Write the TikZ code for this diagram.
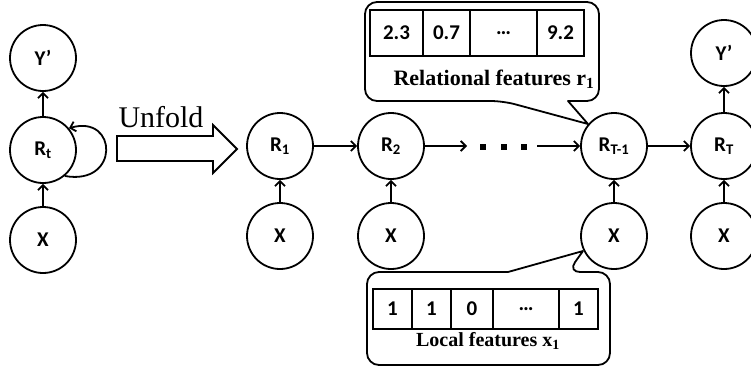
\documentclass[tikz,border=0pt]{standalone}
\usepackage{fontspec}
\setmainfont{Liberation Serif}
\newfontfamily\calfont{Carlito}
\usetikzlibrary{arrows.meta}
\tikzset{
  every picture/.style={line width=1.8pt},
  unit/.style={circle, draw, minimum size=66pt, inner sep=0pt, font=\calfont\bfseries\fontsize{21}{23}\selectfont},
  cell/.style={draw, inner sep=0pt, minimum height=46pt, font=\calfont\bfseries\fontsize{21}{23}\selectfont},
  lcell/.style={draw, inner sep=0pt, minimum height=40pt, font=\calfont\bfseries\fontsize{21}{23}\selectfont},
  arr/.style={-{Straight Barb[length=5pt,width=10pt]}},
  callout/.style={draw, line join=round},
  caption/.style={font=\bfseries\fontsize{20}{22}\selectfont, inner sep=0pt},
  dotbox/.style={fill=black, inner sep=0pt, minimum size=5.5pt}
}
\begin{document}
\begin{tikzpicture}[x=1pt,y=-1pt]
\useasboundingbox (0,0) rectangle (751,368);
% left folded model
\node[unit] (Yl) at (43,58) {Y’};
\node[unit] (Rt) at (43,150) {R\textsubscript{t}};
\node[unit] (Xl) at (43,240) {X};
\draw[arr] (Xl) -- (Rt);
\draw[arr] (Rt) -- (Yl);
\draw[arr] (Rt.-50) .. controls (120,186) and (118,114) .. (Rt.40);
% unfold arrow
\draw[line join=miter] (117,136) -- (213,136) -- (213,125) -- (237,149) -- (213,173) -- (213,161) -- (117,161) -- cycle;
\node[font=\fontsize{30}{32}\selectfont, inner sep=0pt, anchor=base] (unf) at (161,127) {Unfold};
% unfolded chain
\node[unit] (R1) at (280,146) {R\textsubscript{1}};
\node[unit] (X1) at (280,236) {X};
\node[unit] (R2) at (391,146) {R\textsubscript{2}};
\node[unit] (X2) at (391,236) {X};
\node[unit] (RT1) at (614,146) {R\textsubscript{T-1}};
\node[unit] (XT1) at (614,236) {X};
\node[unit] (RT) at (724,146) {R\textsubscript{T}};
\node[unit] (XT) at (724,236) {X};
\node[unit] (YT) at (724,53) {Y’};
\draw[arr] (X1) -- (R1);
\draw[arr] (X2) -- (R2);
\draw[arr] (XT1) -- (RT1);
\draw[arr] (XT) -- (RT);
\draw[arr] (RT) -- (YT);
\draw[arr] (R1) -- (R2);
\coordinate (c1) at (467,146);
\coordinate (c2) at (537,146);
\draw[arr] (R2) -- (c1);
\node[dotbox] (d1) at (483,147) {};
\node[dotbox] (d2) at (504,147) {};
\node[dotbox] (d3) at (524,147) {};
\draw[arr] (c2) -- (RT1);
\draw[arr] (RT1) -- (RT);
% top callout
\coordinate (tipT) at (588,124);
\draw[callout] (tipT) -- (568,101) [rounded corners=12pt] -- (599,101) -- (599,2) -- (365,2) -- (365,101) -- (503,101) [sharp corners] -- cycle;
\node[cell, minimum width=53pt] (t1) at (396.5,33) {2.3};
\node[cell, minimum width=47pt] (t2) at (446.5,33) {0.7};
\node[cell, minimum width=67pt] (t3) at (503.5,33) {…};
\node[cell, minimum width=47pt] (t4) at (560.5,33) {9.2};
\node[caption, font=\bfseries\fontsize{22}{24}\selectfont] (rel) at (494,79) {Relational features r\textsubscript{1}};
% bottom callout
\coordinate (tipB) at (583,251);
\draw[callout] (tipB) -- (508,272) [rounded corners=12pt] -- (367,272) -- (367,365) -- (610,365) -- (610,272) -- (568,272) [sharp corners] -- cycle;
\node[lcell, minimum width=39pt] (b1) at (392.5,309) {1};
\node[lcell, minimum width=39pt] (b2) at (431.5,309) {1};
\node[lcell, minimum width=42pt] (b3) at (472,309) {0};
\node[lcell, minimum width=66pt] (b4) at (526,309) {…};
\node[lcell, minimum width=39pt] (b5) at (578.5,309) {1};
\node[caption] (loc) at (488,341) {Local features x\textsubscript{1}};
\end{tikzpicture}
\end{document}
